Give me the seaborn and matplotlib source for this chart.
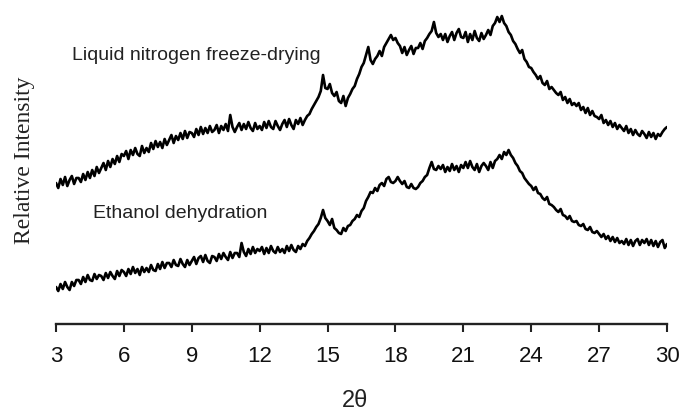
import matplotlib
matplotlib.use('Agg')
import matplotlib.pyplot as plt
from matplotlib import font_manager
import seaborn as sns
import numpy as np
import pandas as pd

# 2-theta grid (step 0.1 deg) and the two patterns
two_theta = np.round(np.arange(3.0, 30.05, 0.1), 1)

freeze_dried = [
    135, 130, 139, 133, 141, 132, 138, 142, 134, 140,  # 3
    140, 136, 144, 138, 146, 140, 148, 142, 151, 145,  # 4
    150, 155, 148, 157, 151, 159, 154, 162, 156, 164,  # 5
    162, 167, 159, 168, 163, 170, 164, 162, 172, 165,  # 6
    170, 166, 175, 169, 177, 171, 176, 170, 179, 173,  # 7
    178, 183, 175, 182, 178, 185, 179, 187, 180, 186,  # 8
    185, 181, 189, 183, 191, 184, 190, 185, 192, 186,  # 9
    188, 193, 185, 192, 188, 194, 187, 203, 191, 186,  # 10
    191, 195, 188, 194, 189, 196, 190, 187, 195, 189,  # 11
    192, 188, 196, 190, 197, 191, 189, 197, 192, 188,  # 12
    194, 198, 191, 199, 193, 189, 198, 194, 200, 193,  # 13
    198, 202, 204, 209, 213, 217, 221, 227, 243, 230,  # 14
    229, 234, 225, 222, 226, 217, 215, 222, 212, 220,  # 15
    224, 229, 232, 239, 244, 251, 255, 263, 271, 258,  # 16
    254, 259, 262, 267, 262, 271, 275, 279, 283, 278,  # 17
    280, 275, 272, 265, 271, 263, 268, 272, 264, 270,  # 18
    270, 275, 269, 277, 280, 284, 287, 296, 285, 281,  # 19
    284, 278, 284, 276, 282, 286, 278, 285, 289, 281,  # 20
    280, 286, 276, 284, 278, 287, 280, 277, 285, 279,  # 21
    283, 288, 283, 292, 295, 301, 296, 302, 295, 292,  # 22
    286, 283, 277, 274, 269, 265, 268, 259, 256, 251,  # 23
    250, 246, 243, 239, 242, 235, 233, 237, 229, 231,  # 24
    228, 225, 223, 226, 218, 221, 215, 219, 213, 215,  # 25
    212, 215, 208, 211, 205, 210, 203, 207, 202, 201,  # 26
    199, 203, 195, 198, 193, 197, 191, 195, 189, 193,  # 27
    190, 187, 192, 185, 189, 183, 188, 184, 182, 187,  # 28
    184, 180, 186, 181, 185, 179, 184, 182, 186, 189,  # 29
    191,
]

ethanol = [
    31, 27, 34, 29, 36, 31, 28, 36, 32, 38,  # 3
    38, 34, 41, 36, 43, 38, 37, 44, 39, 43,  # 4
    42, 38, 45, 40, 46, 42, 39, 47, 42, 48,  # 5
    46, 42, 49, 44, 51, 45, 49, 43, 51, 46,  # 6
    50, 46, 53, 48, 47, 54, 49, 56, 50, 55,  # 7
    55, 51, 58, 53, 52, 59, 54, 51, 58, 53,  # 8
    57, 61, 54, 60, 62, 56, 63, 57, 55, 62,  # 9
    61, 57, 64, 59, 65, 61, 58, 66, 60, 65,  # 10
    65, 61, 75, 66, 62, 69, 64, 71, 65, 69,  # 11
    67, 71, 64, 70, 65, 72, 67, 65, 71, 66,  # 12
    69, 65, 72, 67, 73, 68, 66, 72, 69, 74,  # 13
    72, 77, 80, 84, 87, 91, 94, 100, 108, 100,  # 14
    97, 93, 99, 90, 88, 85, 84, 90, 87, 92,  # 15
    93, 97, 99, 103, 101, 107, 110, 117, 121, 126,  # 16
    125, 130, 127, 133, 135, 132, 139, 141, 136, 135,  # 17
    137, 141, 137, 134, 137, 131, 130, 134, 130, 129,  # 18
    131, 135, 137, 141, 143, 150, 156, 149, 148, 152,  # 19
    149, 153, 146, 151, 147, 154, 148, 152, 146, 153,  # 20
    150, 156, 150, 157, 151, 148, 154, 146, 152, 155,  # 21
    152, 148, 156, 150, 157, 159, 163, 159, 166, 163,  # 22
    168, 163, 160, 155, 152, 147, 145, 140, 137, 134,  # 23
    132, 128, 131, 125, 124, 120, 118, 121, 114, 113,  # 24
    111, 108, 106, 109, 103, 102, 99, 102, 97, 96,  # 25
    97, 93, 92, 94, 89, 88, 91, 86, 85, 87,  # 26
    84, 81, 84, 79, 82, 77, 81, 76, 80, 75,  # 27
    77, 74, 79, 73, 78, 72, 77, 79, 73, 78,  # 28
    75, 79, 73, 78, 72, 77, 71, 76, 78, 70,  # 29
    74,
]

tick_values = [3, 6, 9, 12, 15, 18, 21, 24, 27, 30]

df = pd.DataFrame({
    'two_theta': np.concatenate([two_theta, two_theta]),
    'intensity': freeze_dried + ethanol,
    'sample': ['freeze'] * len(freeze_dried) + ['ethanol'] * len(ethanol),
})

sns.set_style('white')
plt.rcParams['font.family'] = ['Liberation Sans', 'DejaVu Sans']

installed = {f.name for f in font_manager.fontManager.ttflist}
tick_font = 'Liberation Sans Narrow' if 'Liberation Sans Narrow' in installed else 'Liberation Sans'

fig = plt.figure(figsize=(6.83, 4.11), dpi=100)
ax = fig.add_axes([56 / 683, 87 / 411, 611 / 683, 324 / 411])

sns.lineplot(data=df, x='two_theta', y='intensity', units='sample', estimator=None,
             color='black', linewidth=1.9, ax=ax)

ax.set_xlim(3, 30)
ax.set_ylim(-6, 318)
ax.set_xticks(tick_values)
ax.set_yticks([])
ax.set_xlabel('')
ax.set_ylabel('')
for side in ['top', 'right', 'left']:
    ax.spines[side].set_visible(False)
ax.spines['bottom'].set_linewidth(1.7)
ax.spines['bottom'].set_color('#222222')
ax.tick_params(axis='x', direction='out', length=6, width=1.5, color='#222222',
               pad=10, labelsize=16, labelcolor='#111111', bottom=True)
for lbl in ax.get_xticklabels():
    lbl.set_family([tick_font, 'DejaVu Sans'])

fig.text(25 / 683, 1 - 160 / 411, 'Relative Intensity', rotation=90,
         family=['Liberation Serif', 'DejaVu Serif'], size=17,
         ha='center', va='center', color='#222222')
fig.text(355 / 683, 1 - 401 / 411, '2θ', size=17, ha='center', va='center', color='#222222')

fig.text(72 / 683, 1 - 55 / 411, 'Liquid nitrogen freeze-drying', size=14,
         ha='left', va='center', color='#222222')
fig.text(93 / 683, 1 - 213 / 411, 'Ethanol dehydration', size=14,
         ha='left', va='center', color='#222222')

fig.savefig('out.png', dpi=100)
